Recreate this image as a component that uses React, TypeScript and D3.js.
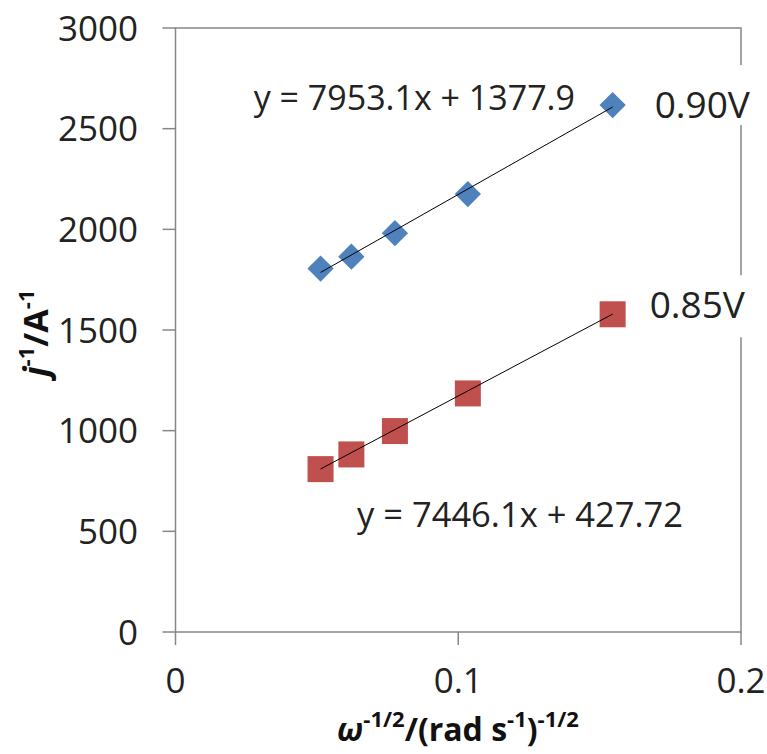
import React from 'react';
import * as d3 from 'd3';

// omega^-1/2 for the five rotation rates
const xValues = [0.0513, 0.0622, 0.0776, 0.1034, 0.1546];
const series090 = [1805, 1864, 1981, 2175, 2617];
const series085 = [809, 882, 998, 1185, 1578];

const seriesNames = ['0.90V', '0.85V'];
const fitSlopes = [7953.1, 7446.1];
const fitIntercepts = [1377.9, 427.72];
const fitLabels = ['y = 7953.1x + 1377.9', 'y = 7446.1x + 427.72'];

const xTicks = [0, 0.1, 0.2];
const yTicks = [0, 500, 1000, 1500, 2000, 2500, 3000];

const width = 767;
const height = 754;
const margin = { top: 28, right: 26, bottom: 122, left: 175.5 };

const blue = '#4F81BD';
const red = '#C0504D';
const axisColor = '#878787';
const font = '"Open Sans", sans-serif';

export default function App() {
  const x = d3
    .scaleLinear()
    .domain([0, 0.2])
    .range([margin.left, width - margin.right]);
  const y = d3
    .scaleLinear()
    .domain([0, 3000])
    .range([height - margin.bottom, margin.top]);

  const x0 = x(0);
  const x1 = x(0.2);
  const y0 = y(0);
  const y1 = y(3000);

  const diamond = d3.symbol().type(d3.symbolDiamond2).size(440);

  const fitLine = (i: number) => {
    const xa = xValues[0];
    const xb = xValues[xValues.length - 1];
    return (
      <line
        x1={x(xa)}
        y1={y(fitSlopes[i] * xa + fitIntercepts[i])}
        x2={x(xb)}
        y2={y(fitSlopes[i] * xb + fitIntercepts[i])}
        stroke="#000"
        strokeWidth={1}
      />
    );
  };

  const last = xValues.length - 1;

  return (
    <svg
      width={width}
      height={height}
      style={{ position: 'absolute', left: 0, top: 0, background: '#fff' }}
      fontFamily={font}
    >
      {/* plot frame */}
      <rect
        x={x0}
        y={y1}
        width={x1 - x0}
        height={y0 - y1}
        fill="none"
        stroke={axisColor}
        strokeWidth={1.5}
      />

      {/* y axis ticks + labels */}
      {yTicks.map((t) => (
        <g key={'y' + t}>
          <line x1={x0 - 13} x2={x0} y1={y(t)} y2={y(t)} stroke={axisColor} strokeWidth={1.5} />
          <text x={138} y={y(t) + 12.5} textAnchor="end" fontSize={35} fill="#222">
            {t}
          </text>
        </g>
      ))}

      {/* x axis ticks + labels */}
      {xTicks.map((t) => (
        <g key={'x' + t}>
          <line x1={x(t)} x2={x(t)} y1={y0} y2={y0 + 13} stroke={axisColor} strokeWidth={1.5} />
          <text x={x(t)} y={693} textAnchor="middle" fontSize={35} fill="#222">
            {t === 0 ? '0' : t.toString()}
          </text>
        </g>
      ))}

      {/* white boxes of the series labels cut the right border */}
      <rect x={646} y={y(series090[last]) - 40} width={115} height={60} fill="#fff" />
      <rect x={646} y={y(series085[last]) - 39} width={115} height={62} fill="#fff" />

      {/* 0.90V */}
      {xValues.map((d, i) => (
        <path
          key={'b' + i}
          d={diamond() as string}
          transform={`translate(${x(d)},${y(series090[i])})`}
          fill={blue}
        />
      ))}
      {fitLine(0)}

      {/* 0.85V */}
      {xValues.map((d, i) => (
        <rect
          key={'r' + i}
          x={x(d) - 13}
          y={y(series085[i]) - 13}
          width={26}
          height={26}
          fill={red}
        />
      ))}
      {fitLine(1)}

      {/* labels */}
      <text x={x(xValues[last]) + 42} y={y(series090[last]) + 13} fontSize={37} fill="#222">
        {seriesNames[0]}
      </text>
      <text x={x(xValues[last]) + 37} y={y(series085[last]) + 4} fontSize={37} fill="#222">
        {seriesNames[1]}
      </text>
      <text x={575} y={110} textAnchor="end" fontSize={34} fill="#222">
        {fitLabels[0]}
      </text>
      <text x={357} y={527} fontSize={34.5} fill="#222">
        {fitLabels[1]}
      </text>

      {/* axis titles */}
      <text x={458} y={741} textAnchor="middle" fontSize={32} fontWeight="bold" fill="#111">
        <tspan fontStyle="italic">ω</tspan>
        <tspan fontSize={22} dy={-14}>-1/2</tspan>
        <tspan dy={14}>/(rad s</tspan>
        <tspan fontSize={22} dy={-14}>-1</tspan>
        <tspan dy={14}>)</tspan>
        <tspan fontSize={22} dy={-14}>-1/2</tspan>
      </text>
      <text
        transform={`translate(48,${333}) rotate(-90)`}
        textAnchor="middle"
        fontSize={34}
        fontWeight="bold"
        fill="#111"
      >
        <tspan fontStyle="italic">j</tspan>
        <tspan fontSize={22} dy={-14}>-1</tspan>
        <tspan dy={14}>/A</tspan>
        <tspan fontSize={22} dy={-14}>-1</tspan>
      </text>
    </svg>
  );
}
